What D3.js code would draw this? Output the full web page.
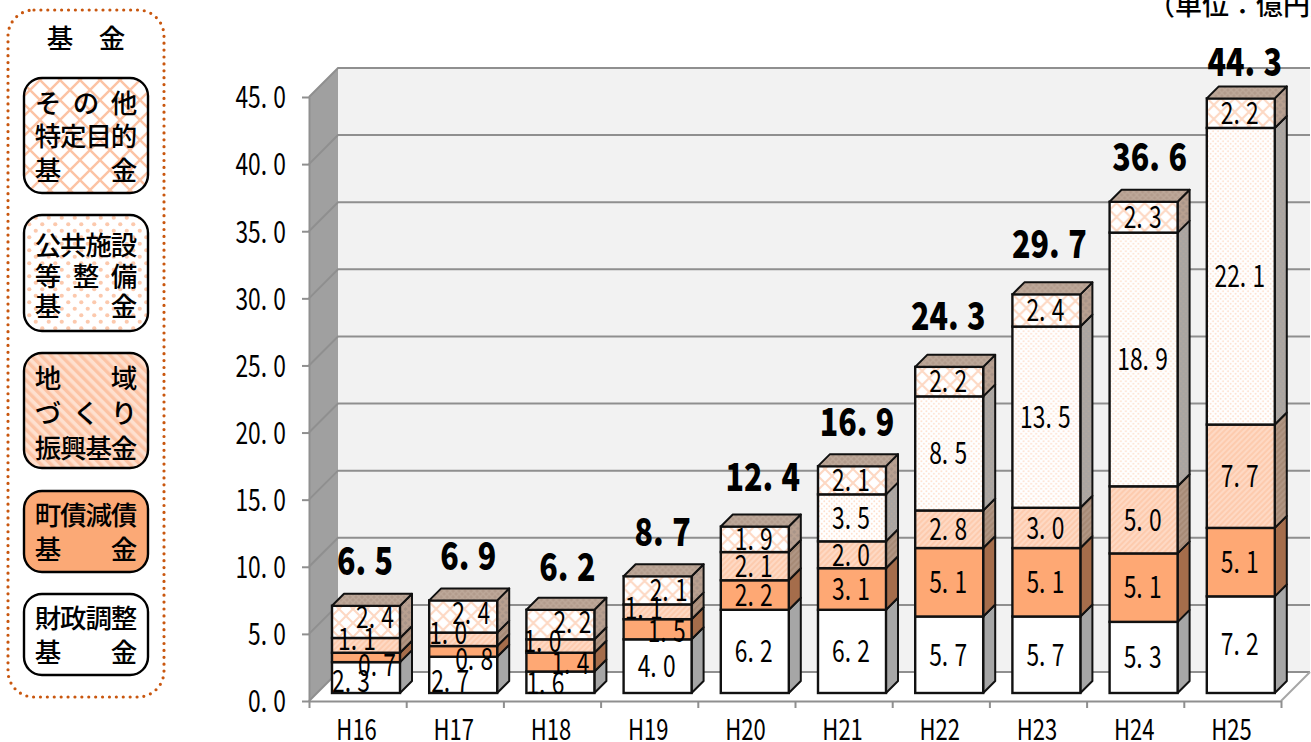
<!DOCTYPE html>
<html>
<head>
<meta charset="utf-8">
<script src="https://cdn.jsdelivr.net/npm/d3@7"></script>
<style>
  html, body { margin: 0; padding: 0; background: #fff; overflow: hidden; }
  svg { display: block; }
  .num { font-family: "Noto Sans CJK JP", sans-serif; font-weight: 400; fill: #000; }
  .jp { font-family: "Noto Sans CJK JP", sans-serif; font-weight: 500; fill: #000; }
</style>
</head>
<body>
<svg id="chart" width="1311" height="742"></svg>
<script>
// data
const years = ['H16', 'H17', 'H18', 'H19', 'H20', 'H21', 'H22', 'H23', 'H24', 'H25'];
const zaisei = [2.3, 2.7, 1.6, 4.0, 6.2, 6.2, 5.7, 5.7, 5.3, 7.2];
const chosai = [0.7, 0.8, 1.4, 1.5, 2.2, 3.1, 5.1, 5.1, 5.1, 5.1];
const chiiki = [1.1, 1.0, 1.0, 1.1, 2.1, 2.0, 2.8, 3.0, 5.0, 7.7];
const kokyo = [0, 0, 0, 0, 0, 3.5, 8.5, 13.5, 18.9, 22.1];
const sonota = [2.4, 2.4, 2.2, 2.1, 1.9, 2.1, 2.2, 2.4, 2.3, 2.2];
const totals = [6.5, 6.9, 6.2, 8.7, 12.4, 16.9, 24.3, 29.7, 36.6, 44.3];
const yTicks = [0, 5, 10, 15, 20, 25, 30, 35, 40, 45];

const seriesList = [zaisei, chosai, chiiki, kokyo, sonota];
const seriesKeys = ['white', 'orange', 'hatch', 'dots', 'cross'];

const legendTitle = ['基', '金'];
const legendRows = [
  { key: 'cross', lines: ['その他', '特定目的', '基金'] },
  { key: 'dots', lines: ['公共施設', '等整備', '基金'] },
  { key: 'hatch', lines: ['地域', 'づくり', '振興基金'] },
  { key: 'orange', lines: ['町債減債', '基金'] },
  { key: 'white', lines: ['財政調整', '基金'] }
];
// layout of the legend: top, bottom, line gap, shift of the lines
const legendBoxes = [[78, 193, 33.5, 0], [215, 331, 30.5, 2], [353, 468, 35, 2], [491, 572, 33.5, 0], [594, 675, 34.5, 0]];

// the small bars have their labels pushed off centre, [series]-[year] -> [dx, dy]
const labelNudges = {
  '0-0': [-14, 4], '1-0': [12, 8], '2-0': [-8, -6], '4-0': [10, -5],
  '0-1': [-12, 6], '1-1': [12, 8], '2-1': [-14, -6], '4-1': [9, -3],
  '0-2': [-14, 1], '1-2': [11, 1], '2-2': [-17, -5], '4-2': [13, -2],
  '1-3': [10, 2], '2-3': [-13, -4], '4-3': [12, 0]
};
// totals were placed by hand in the source, [dx, lift above the bar]
const totalNudges = [[-1, 44], [5, 44], [7, 42], [5, 44], [8, 49], [5, 44], [-1, 51], [3, 50], [6, 44], [4, 36]];

const svg = d3.select('#chart');
const defs = svg.append('defs');

// patterns
function crossPattern(id, size, bg, line, w) {
  const p = defs.append('pattern').attr('id', id).attr('patternUnits', 'userSpaceOnUse')
    .attr('width', size).attr('height', size);
  p.append('rect').attr('width', size).attr('height', size).attr('fill', bg);
  p.append('path').attr('d', `M0,0L${size},${size}M${size},0L0,${size}`)
    .attr('stroke', line).attr('stroke-width', w);
}
function dotPattern(id, size, bg, dot, r) {
  const p = defs.append('pattern').attr('id', id).attr('patternUnits', 'userSpaceOnUse')
    .attr('width', size).attr('height', size);
  p.append('rect').attr('width', size).attr('height', size).attr('fill', bg);
  [[size / 4, size / 4], [size * 3 / 4, size * 3 / 4]].forEach(c => {
    p.append('circle').attr('cx', c[0]).attr('cy', c[1]).attr('r', r).attr('fill', dot);
  });
}
function hatchPattern(id, size, bg, line, w, angle) {
  const p = defs.append('pattern').attr('id', id).attr('patternUnits', 'userSpaceOnUse')
    .attr('width', size).attr('height', size).attr('patternTransform', `rotate(${angle})`);
  p.append('rect').attr('width', size).attr('height', size).attr('fill', bg);
  p.append('rect').attr('width', w).attr('height', size).attr('fill', line);
}

crossPattern('cross', 14, '#fff', '#fdd8c3', 2);
crossPattern('crossSide', 7, '#a89488', '#b8a090', 2);
crossPattern('crossLegend', 20, '#fff', '#fcc3a4', 2.4);
dotPattern('dots', 5, '#fff', '#fee0ce', 0.9);
dotPattern('dotsSide', 5, '#a9a5a2', '#b5a89f', 0.9);
dotPattern('dotsLegend', 13, '#fff', '#fcc9ad', 2.1);
hatchPattern('hatch', 4, '#fed9c4', '#fdcbae', 2, 45);
hatchPattern('hatchSide', 4, '#b09684', '#a68a76', 2, 45);
hatchPattern('hatchLegend', 7, '#fee0cf', '#fcc3a4', 3.4, -45);
crossPattern('topFace', 6, '#b29b8c', '#bda899', 1.5);

const frontFill = { white: '#fff', orange: '#fea874', hatch: 'url(#hatch)', dots: 'url(#dots)', cross: 'url(#cross)' };
const sideFill = { white: '#a6a6a6', orange: '#a56d4b', hatch: 'url(#hatchSide)', dots: 'url(#dotsSide)', cross: 'url(#crossSide)' };
const legendFill = { white: '#fff', orange: '#fba976', hatch: 'url(#hatchLegend)', dots: 'url(#dotsLegend)', cross: 'url(#crossLegend)' };

// scales
const y = d3.scaleLinear().domain([0, 45]).range([701, 97]);
const x = d3.scaleBand().domain(years).range([309, 1281]);
const xEdge = d3.scaleLinear().domain([0, 10]).range([309, 1281]);

const wallDepth = 29;
const barDepth = 12;
const barInset = 23;
const barWidth = 68;
const barLift = 8;

// the source font gives the point a full digit cell, so open a gap after it
function setNumber(sel, v) {
  const parts = v.toFixed(1).split('.');
  sel.text(null);
  sel.append('tspan').text(parts[0] + '.');
  sel.append('tspan').attr('dx', '0.277em').text(parts[1]);
}

// walls and floor
const x0 = xEdge(0), x1 = xEdge(10), yBase = y(0), yTop = y(45);
svg.append('path')
  .attr('d', `M${x0 + wallDepth},${yTop - wallDepth}H${x1 + wallDepth}V${yBase - wallDepth}H${x0 + wallDepth}Z`)
  .attr('fill', '#f2f2f2');
svg.append('path')
  .attr('d', `M${x0},${yTop}L${x0 + wallDepth},${yTop - wallDepth}V${yBase - wallDepth}L${x0},${yBase}Z`)
  .attr('fill', '#a0a0a0');

const gridColor = '#8f8f8f';
svg.append('g').selectAll('path').data(yTicks).enter().append('path')
  .attr('d', t => `M${x0},${y(t)}L${x0 + wallDepth},${y(t) - wallDepth}H${x1 + wallDepth}`)
  .attr('fill', 'none').attr('stroke', gridColor).attr('stroke-width', 2);
svg.append('path')
  .attr('d', `M${x1},${yBase}L${x1 + wallDepth},${yBase - wallDepth}`)
  .attr('stroke', '#a6a6a6').attr('stroke-width', 2);

// axes
const yAxis = svg.append('g').attr('transform', `translate(${x0},0)`)
  .call(d3.axisLeft(y).tickValues(yTicks).tickSize(7).tickSizeOuter(0));
const xAxis = svg.append('g').attr('transform', `translate(0,${yBase})`)
  .call(d3.axisBottom(xEdge).tickValues(d3.range(11)).tickSize(7).tickSizeOuter(0).tickFormat(''));
const xLabels = svg.append('g').attr('transform', `translate(0,${yBase})`)
  .call(d3.axisBottom(x).tickSize(0));
xLabels.select('.domain').remove();
[yAxis, xAxis].forEach(a => {
  a.selectAll('.domain, line').attr('stroke', gridColor).attr('stroke-width', 2);
});

yAxis.selectAll('text')
  .attr('class', 'num').attr('font-size', 30).attr('font-family', null)
  .attr('text-anchor', 'end').attr('x', 0).attr('dy', '0.36em')
  .attr('transform', 'translate(-23,0) scale(0.76,1)')
  .each(function (t) { setNumber(d3.select(this), t); });
xLabels.selectAll('text')
  .attr('class', 'num').attr('font-size', 29).attr('font-family', null)
  .attr('text-anchor', 'middle').attr('y', 0).attr('dy', '0.36em')
  .attr('transform', 'translate(-1,29) scale(0.76,1)');

// stacked bars
const rows = years.map((yr, i) => {
  const row = { year: yr };
  seriesKeys.forEach((k, s) => { row[k] = seriesList[s][i]; });
  return row;
});
const stacked = d3.stack().keys(seriesKeys)(rows);
const yBar = v => y(v) - barLift;

const barG = svg.append('g').selectAll('g').data(years).enter().append('g')
  .attr('transform', d => `translate(${x(d) + barInset},0)`);

barG.each(function (yr, i) {
  const g = d3.select(this);
  stacked.forEach((layer, s) => {
    const seg = layer[i];
    if (seg[1] - seg[0] <= 0) return;
    const key = seriesKeys[s];
    const t = yBar(seg[1]), b = yBar(seg[0]);
    g.append('path')
      .attr('d', `M${barWidth},${t}L${barWidth + barDepth},${t - barDepth}V${b - barDepth}L${barWidth},${b}Z`)
      .attr('fill', sideFill[key]).attr('stroke', '#111').attr('stroke-width', 2).attr('stroke-linejoin', 'round');
    g.append('rect')
      .attr('x', 0).attr('y', t).attr('width', barWidth).attr('height', b - t)
      .attr('fill', frontFill[key]).attr('stroke', '#111').attr('stroke-width', 2.4);
  });
  const top = yBar(totals[i]);
  g.append('path')
    .attr('d', `M0,${top}L${barDepth},${top - barDepth}H${barWidth + barDepth}L${barWidth},${top}Z`)
    .attr('fill', 'url(#topFace)').attr('stroke', '#111').attr('stroke-width', 2).attr('stroke-linejoin', 'round');
});

// segment labels, on top of all bars
stacked.forEach((layer, s) => {
  years.forEach((yr, i) => {
    const v = seriesList[s][i];
    if (!v) return;
    const seg = layer[i];
    const n = labelNudges[s + '-' + i] || [0, 0];
    const px = x(yr) + barInset + barWidth / 2 + n[0] - 1;
    const py = yBar((seg[0] + seg[1]) / 2) + n[1];
    svg.append('text').attr('class', 'num')
      .attr('font-size', 30).attr('text-anchor', 'middle').attr('dy', '0.36em')
      .attr('transform', `translate(${px},${py}) scale(0.76,1)`)
      .call(setNumber, v);
  });
});

// totals
svg.append('g').selectAll('text').data(years).enter().append('text')
  .attr('class', 'num').attr('font-size', 38).style('font-weight', 900)
  .attr('text-anchor', 'middle').attr('dy', '0.36em')
  .attr('transform', (d, i) => `translate(${x(d) + barInset + barWidth / 2 + totalNudges[i][0]},${yBar(totals[i]) - totalNudges[i][1]}) scale(0.8,1)`)
  .each(function (d, i) { setNumber(d3.select(this), totals[i]); });

// unit, runs off the page like in the source
svg.append('text').attr('class', 'jp').attr('font-size', 27).attr('font-weight', 400)
  .attr('x', 1148).attr('y', 15).text('（単位：億円）');

// legend
svg.append('rect')
  .attr('x', 8).attr('y', 10).attr('width', 156).attr('height', 687).attr('rx', 26)
  .attr('fill', 'none').attr('stroke', '#c9570f').attr('stroke-width', 3.2)
  .attr('stroke-linecap', 'round').attr('stroke-dasharray', '0 6.9');

const charX = d3.scalePoint();
function putLine(chars, py, range) {
  charX.domain(d3.range(chars.length)).range(range);
  chars.forEach((c, i) => {
    svg.append('text').attr('class', 'jp').attr('font-size', 26.5)
      .attr('text-anchor', 'middle').attr('dominant-baseline', 'central')
      .attr('x', charX(i)).attr('y', py).text(c);
  });
}

putLine(legendTitle, 36, [60, 112]);

legendRows.forEach((row, r) => {
  const [top, bottom, gap, shift] = legendBoxes[r];
  svg.append('rect')
    .attr('x', 24).attr('y', top).attr('width', 124).attr('height', bottom - top).attr('rx', 18)
    .attr('fill', legendFill[row.key]).attr('stroke', '#000').attr('stroke-width', 2.4);
  const mid = (top + bottom) / 2;
  row.lines.forEach((line, l) => {
    putLine(line.split(''), mid + (l - (row.lines.length - 1) / 2) * gap - 1 + shift, [48, 124]);
  });
});
</script>
</body>
</html>
